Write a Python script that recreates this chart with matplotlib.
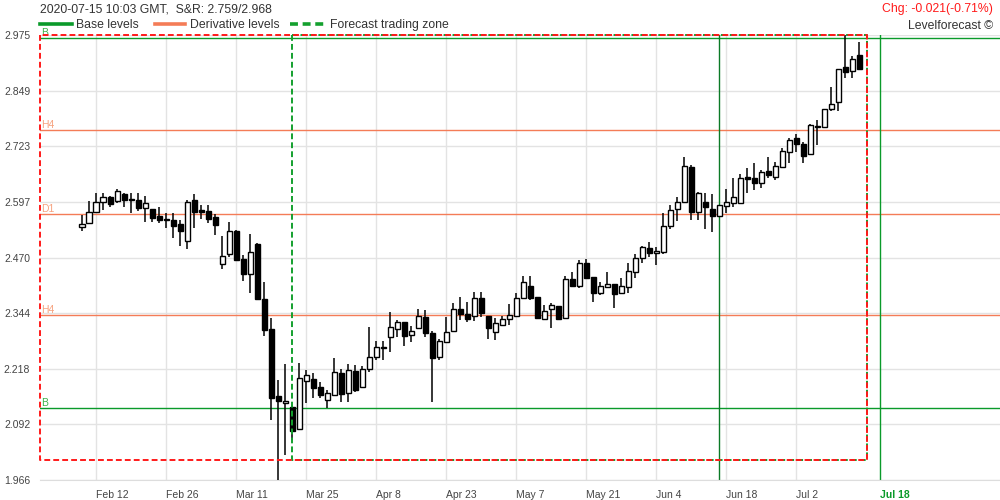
import numpy as np
import matplotlib
matplotlib.use('Agg')
import matplotlib.pyplot as plt
from matplotlib.lines import Line2D

plt.rcParams['font.family'] = ['Liberation Sans', 'DejaVu Sans']

# daily candles, Feb 10 .. Jul 15 2020
opens = [2.539, 2.548, 2.573, 2.596, 2.607, 2.599, 2.614, 2.602, 2.602, 2.582,
         2.580, 2.565, 2.558, 2.556, 2.546, 2.509, 2.601, 2.578, 2.575, 2.562,
         2.455, 2.478, 2.530, 2.466, 2.432, 2.501, 2.376, 2.308, 2.156, 2.140,
         2.132, 2.081, 2.190, 2.195, 2.176, 2.147, 2.159, 2.208, 2.164, 2.213,
         2.176, 2.217, 2.245, 2.268, 2.290, 2.308, 2.324, 2.294, 2.310, 2.336,
         2.299, 2.245, 2.278, 2.304, 2.353, 2.342, 2.338, 2.378, 2.338, 2.301,
         2.317, 2.330, 2.338, 2.378, 2.406, 2.380, 2.330, 2.354, 2.360, 2.334,
         2.422, 2.406, 2.457, 2.426, 2.389, 2.403, 2.410, 2.389, 2.404, 2.437,
         2.469, 2.491, 2.480, 2.484, 2.543, 2.580, 2.596, 2.676, 2.574, 2.596,
         2.580, 2.565, 2.587, 2.593, 2.595, 2.654, 2.650, 2.640, 2.666, 2.654,
         2.676, 2.710, 2.741, 2.728, 2.705, 2.769, 2.767, 2.807, 2.822, 2.902,
         2.894, 2.930]
highs = [2.567, 2.599, 2.617, 2.617, 2.610, 2.626, 2.616, 2.616, 2.616, 2.610,
         2.580, 2.584, 2.571, 2.571, 2.556, 2.601, 2.614, 2.590, 2.590, 2.568,
         2.519, 2.552, 2.533, 2.476, 2.524, 2.503, 2.416, 2.333, 2.193, 2.229,
         2.136, 2.231, 2.215, 2.208, 2.189, 2.170, 2.243, 2.217, 2.229, 2.226,
         2.224, 2.314, 2.282, 2.282, 2.348, 2.329, 2.324, 2.315, 2.353, 2.351,
         2.304, 2.286, 2.336, 2.367, 2.380, 2.370, 2.393, 2.393, 2.338, 2.333,
         2.338, 2.364, 2.391, 2.429, 2.429, 2.380, 2.363, 2.367, 2.360, 2.429,
         2.438, 2.465, 2.468, 2.426, 2.415, 2.438, 2.410, 2.425, 2.457, 2.478,
         2.496, 2.506, 2.495, 2.571, 2.590, 2.607, 2.699, 2.680, 2.620, 2.616,
         2.614, 2.590, 2.626, 2.650, 2.659, 2.674, 2.684, 2.669, 2.699, 2.687,
         2.718, 2.741, 2.750, 2.733, 2.773, 2.782, 2.807, 2.856, 2.899, 2.980,
         2.927, 2.958]
lows = [2.531, 2.546, 2.571, 2.578, 2.584, 2.593, 2.586, 2.571, 2.575, 2.552,
        2.552, 2.549, 2.537, 2.514, 2.497, 2.490, 2.537, 2.558, 2.549, 2.521,
        2.445, 2.471, 2.463, 2.417, 2.391, 2.374, 2.293, 2.102, 1.955, 2.023,
        2.057, 2.081, 2.141, 2.153, 2.152, 2.130, 2.159, 2.143, 2.143, 2.166,
        2.174, 2.212, 2.238, 2.238, 2.257, 2.291, 2.270, 2.280, 2.308, 2.291,
        2.143, 2.238, 2.276, 2.301, 2.329, 2.325, 2.326, 2.335, 2.286, 2.284,
        2.316, 2.317, 2.336, 2.376, 2.374, 2.330, 2.329, 2.311, 2.329, 2.333,
        2.403, 2.401, 2.423, 2.370, 2.385, 2.403, 2.357, 2.389, 2.391, 2.423,
        2.457, 2.472, 2.453, 2.479, 2.535, 2.553, 2.593, 2.556, 2.556, 2.535,
        2.529, 2.563, 2.571, 2.586, 2.593, 2.617, 2.624, 2.627, 2.650, 2.646,
        2.676, 2.685, 2.710, 2.684, 2.705, 2.726, 2.767, 2.803, 2.803, 2.877,
        2.878, 2.897]
closes = [2.546, 2.573, 2.596, 2.607, 2.591, 2.621, 2.602, 2.601, 2.582, 2.593,
          2.559, 2.556, 2.555, 2.543, 2.531, 2.596, 2.574, 2.574, 2.557, 2.544,
          2.475, 2.530, 2.465, 2.432, 2.482, 2.376, 2.305, 2.153, 2.146, 2.145,
          2.078, 2.197, 2.203, 2.175, 2.159, 2.163, 2.210, 2.162, 2.215, 2.170,
          2.217, 2.245, 2.267, 2.265, 2.314, 2.324, 2.293, 2.303, 2.338, 2.299,
          2.243, 2.281, 2.302, 2.353, 2.342, 2.330, 2.378, 2.345, 2.310, 2.321,
          2.330, 2.340, 2.378, 2.414, 2.378, 2.333, 2.350, 2.363, 2.330, 2.422,
          2.407, 2.457, 2.425, 2.391, 2.406, 2.410, 2.387, 2.407, 2.441, 2.469,
          2.494, 2.481, 2.485, 2.541, 2.578, 2.597, 2.678, 2.574, 2.616, 2.584,
          2.565, 2.590, 2.596, 2.607, 2.650, 2.649, 2.640, 2.664, 2.658, 2.678,
          2.711, 2.737, 2.727, 2.701, 2.770, 2.767, 2.807, 2.818, 2.897, 2.890,
          2.920, 2.899]

tick_pos = [2, 12, 22, 32, 42, 52, 62, 72, 82, 92, 102]
tick_labels = ['Feb 12', 'Feb 26', 'Mar 11', 'Mar 25', 'Apr 8', 'Apr 23',
               'May 7', 'May 21', 'Jun 4', 'Jun 18', 'Jul 2']
target_pos = 114
target_label = 'Jul 18'
marker_pos = 91

y_ticks = [1.966, 2.092, 2.218, 2.344, 2.470, 2.597, 2.723, 2.849, 2.975]

base_levels = [2.968, 2.129]
base_names = ['B', 'B']
deriv_levels = [2.759, 2.569, 2.340]
deriv_names = ['H4', 'D1', 'H4']

zone_start = 30
zone_end = 112.1
zone_low = 2.011
zone_high = 2.975

GREEN = '#0a9a2a'
ORANGE = '#f47c57'
ORANGE_TXT = '#f6a27f'
RED = '#ff1a1a'

fig = plt.figure(figsize=(10, 5), dpi=100)
ax = fig.add_axes([0.04, 0.04, 0.96, 0.89])
ax.set_xlim(-6, 131.1)
ax.set_ylim(1.966, 2.975)

x = np.arange(len(opens))
o = np.array(opens)
c = np.array(closes)

# grid
for v in y_ticks:
    ax.axhline(v, color='#e3e3e3', lw=1, zorder=0)
for p in tick_pos:
    ax.axvline(p, color='#e3e3e3', lw=1, zorder=0)

# candles
ax.vlines(x, lows, highs, color='black', lw=1.1, zorder=3)
up = c >= o
bottom = np.minimum(o, c)
height = np.maximum(np.abs(c - o), 0.0015)
ax.bar(x, height, bottom=bottom, width=0.72,
       color=np.where(up, 'white', 'black'), edgecolor='black',
       linewidth=1.0, zorder=4)

# levels
for lv, nm in zip(base_levels, base_names):
    ax.axhline(lv, color=GREEN, lw=1, zorder=2)
    ax.text(-5.8, lv + 0.001, nm, color='#3cb44b', fontsize=7.5,
            va='bottom', ha='left', zorder=5)
for lv, nm in zip(deriv_levels, deriv_names):
    ax.axhline(lv, color=ORANGE, lw=1, zorder=2)
    ax.text(-5.8, lv + 0.001, nm, color=ORANGE_TXT, fontsize=7.5,
            va='bottom', ha='left', zorder=5)

ax.axvline(marker_pos, color='#0b7a26', lw=1, zorder=2)
ax.axvline(target_pos, color=GREEN, lw=1, zorder=2)

# forecast zone and red frame
ax.plot([zone_start, zone_start, zone_end, zone_end, zone_start],
        [zone_high, zone_low, zone_low, zone_high, zone_high],
        color='#14a02e', lw=1.4, ls=(0, (3, 1.6)), zorder=6, clip_on=False)
ax.plot([-6, -6, zone_end, zone_end, -6],
        [zone_high, zone_low, zone_low, zone_high, zone_high],
        color=RED, lw=1.4, ls=(0, (3, 1.6)), zorder=7, clip_on=False)

# axes cosmetics
for s in ['top', 'right', 'left']:
    ax.spines[s].set_visible(False)
ax.spines['bottom'].set_color('#dddddd')
ax.set_yticks(y_ticks)
ax.set_yticklabels(['%.3f' % v for v in y_ticks])
ax.set_xticks(tick_pos + [target_pos])
ax.set_xticklabels(tick_labels + [target_label], ha='left')
ax.tick_params(axis='both', length=0, labelsize=7.5, colors='#444444')
ax.tick_params(axis='y', pad=7)
ax.tick_params(axis='x', pad=7)
lbl = ax.get_xticklabels()[-1]
lbl.set_color(GREEN)
lbl.set_fontweight('bold')

# header texts
fig.text(0.04, 1 - 12 / 500, '2020-07-15 10:03 GMT,  S&R: 2.759/2.968',
         fontsize=8.8, color='#333333', va='baseline', ha='left')
fig.text(0.993, 1 - 12 / 500, 'Chg: -0.021(-0.71%)', fontsize=8.8, color=RED,
         va='baseline', ha='right')
fig.text(0.993, 1 - 29 / 500, 'Levelforecast \u00a9', fontsize=8.8,
         color='#333333', va='baseline', ha='right')

# legend row drawn in figure pixels
leg_y = 1 - 23.7 / 500
leg_items = [((40, 72), 76, GREEN, '-', 'Base levels'),
             ((155, 185), 190, ORANGE, '-', 'Derivative levels'),
             ((290, 325), 330, '#14a02e', (0, (2.2, 1.3)), 'Forecast trading zone')]
for (x0, x1), tx, col, ls, name in leg_items:
    fig.add_artist(Line2D([x0 / 1000, x1 / 1000], [leg_y, leg_y], color=col,
                          lw=2.6, ls=ls))
    fig.text(tx / 1000, 1 - 28 / 500, name, fontsize=8.8, color='#333333',
             va='baseline', ha='left')

fig.savefig('out.png', dpi=100)
